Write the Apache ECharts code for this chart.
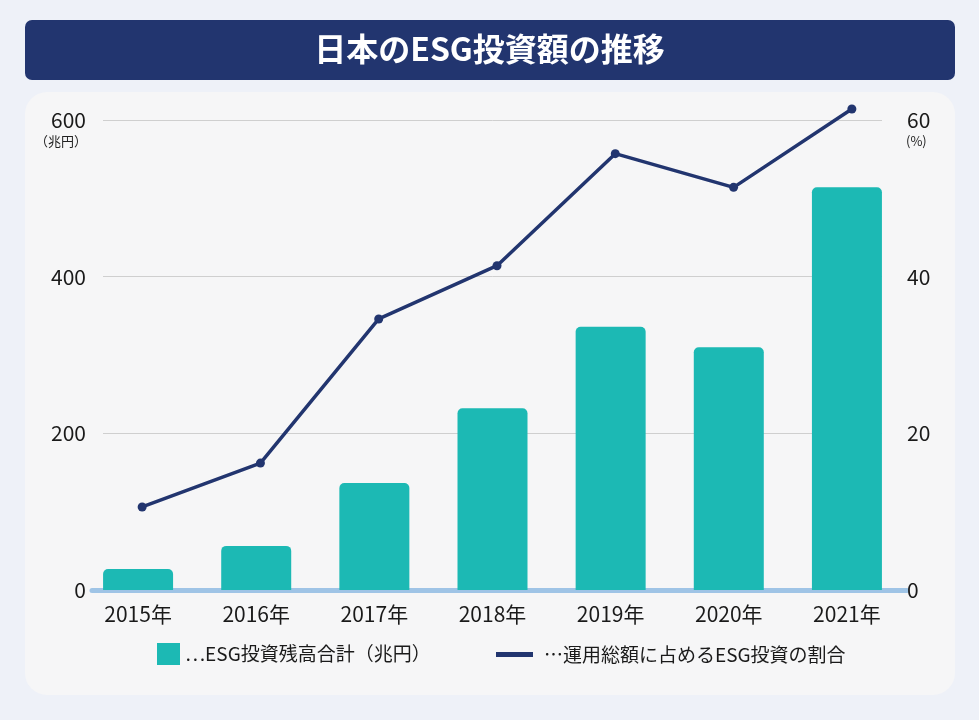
<!DOCTYPE html>
<html>
<head>
<meta charset="utf-8">
<script src="https://cdn.jsdelivr.net/npm/echarts@6/dist/echarts.min.js"></script>
<style>
html,body{margin:0;padding:0;background:#eef1f8;}
#chart{width:979px;height:720px;}
</style>
</head>
<body>
<div id="chart"></div>
<script>
// 日本のESG投資額の推移
const years = ['2015年', '2016年', '2017年', '2018年', '2019年', '2020年', '2021年'];
const esgBalance = [26.7, 56.3, 136.6, 231.9, 336.0, 310.0, 514.1];   // 兆円
const esgShare = [10.6, 16.2, 34.6, 41.4, 55.7, 51.4, 61.4];          // %
const leftTicks = [0, 200, 400, 600];
const rightTicks = [0, 20, 40, 60];

const barName = '…ESG投資残高合計（兆円）';
const lineName = '…運用総額に占めるESG投資の割合';
const font = '"Noto Sans CJK JP", "Noto Sans", sans-serif';

let myChart = echarts.init(document.getElementById('chart'));
myChart.setOption({
    backgroundColor: '#eef1f8',
    textStyle: {fontFamily: font},
    title: {
        text: '日本のESG投資額の推移',
        left: 'center',
        top: 28,
        textStyle: {
            color: '#ffffff',
            fontSize: 32,
            fontWeight: 'bold',
            fontFamily: font,
        },
    },
    graphic: [{
        type: 'rect',
        z: -10,
        shape: {x: 25, y: 20, width: 930, height: 60, r: 7},
        style: {fill: '#22356f'},
    }, {
        type: 'rect',
        z: -10,
        shape: {x: 25, y: 92, width: 930, height: 603, r: 22},
        style: {fill: '#f6f6f7'},
    }, {
        type: 'text',
        x: 87,
        y: 135,
        style: {text: '（兆円）', fill: '#222', font: '13px ' + font, align: 'right'},
    }, {
        type: 'text',
        x: 906,
        y: 135,
        style: {text: '(%)', fill: '#222', font: '13px ' + font},
    }],
    legend: [{
        left: 157,
        top: 643,
        padding: 0,
        itemWidth: 23,
        itemHeight: 22,
        icon: 'rect',
        selectedMode: false,
        textStyle: {fontSize: 19, color: '#1a1a1a'},
        data: [barName],
    }, {
        left: 496,
        top: 645,
        padding: 0,
        itemWidth: 37,
        itemHeight: 5,
        icon: 'rect',
        selectedMode: false,
        textStyle: {fontSize: 19, color: '#1a1a1a', padding: [0, 0, 0, 6]},
        data: [lineName],
    }],
    grid: [
        {left: 79, right: 73, top: 120, bottom: 130},   // bars
        {left: 103, right: 97, top: 120, bottom: 130},  // gridlines + labels
        {left: 83, right: 68, top: 73, bottom: 130},    // line (0-66, same scale as 0-60 above)
        {left: 92, right: 72, top: 120, bottom: 130},   // base line
    ],
    xAxis: [{
        gridIndex: 0,
        type: 'category',
        data: years,
        axisLine: {show: false},
        axisTick: {show: false},
        axisLabel: {color: '#1a1a1a', fontSize: 21, margin: 14},
    }, {
        gridIndex: 1,
        type: 'category',
        data: years,
        show: false,
    }, {
        gridIndex: 2,
        type: 'category',
        data: years,
        show: false,
    }, {
        gridIndex: 3,
        type: 'category',
        data: years,
        axisLine: {show: true, lineStyle: {color: '#9fc4e6', width: 5}},
        axisTick: {show: false},
        axisLabel: {show: false},
    }],
    yAxis: [{
        gridIndex: 0,
        type: 'value',
        min: leftTicks[0],
        max: leftTicks[leftTicks.length - 1],
        show: false,
    }, {
        gridIndex: 1,
        type: 'value',
        position: 'left',
        min: leftTicks[0],
        max: leftTicks[leftTicks.length - 1],
        interval: leftTicks[1] - leftTicks[0],
        axisLine: {show: false},
        axisTick: {show: false},
        axisLabel: {color: '#1a1a1a', fontSize: 21, margin: 17},
        splitLine: {show: true, lineStyle: {color: '#cfcfcf', width: 1}},
    }, {
        gridIndex: 1,
        type: 'value',
        position: 'right',
        min: rightTicks[0],
        max: rightTicks[rightTicks.length - 1],
        interval: rightTicks[1] - rightTicks[0],
        axisLine: {show: false},
        axisTick: {show: false},
        axisLabel: {color: '#1a1a1a', fontSize: 21, margin: 25},
        splitLine: {show: false},
    }, {
        gridIndex: 2,
        type: 'value',
        min: rightTicks[0],
        max: 66,
        show: false,
    }, {
        gridIndex: 3,
        type: 'value',
        show: false,
    }],
    series: [{
        name: barName,
        type: 'bar',
        xAxisIndex: 0,
        yAxisIndex: 0,
        barWidth: 70,
        z: 3,
        itemStyle: {
            color: '#1cb9b4',
            borderRadius: [5, 5, 0, 0],
        },
        data: esgBalance,
    }, {
        name: lineName,
        type: 'line',
        xAxisIndex: 2,
        yAxisIndex: 3,
        z: 4,
        symbol: 'circle',
        symbolSize: 9,
        lineStyle: {color: '#22356f', width: 3.5},
        itemStyle: {color: '#22356f'},
        data: esgShare,
    }],
});
</script>
</body>
</html>
